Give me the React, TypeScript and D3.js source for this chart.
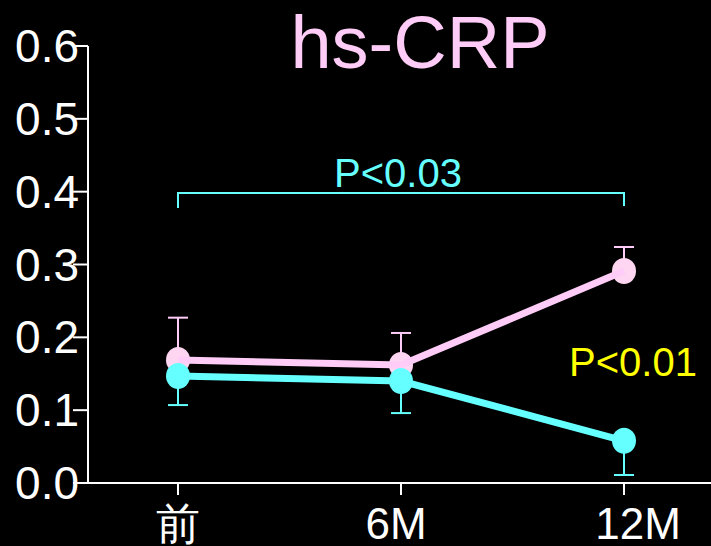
import React from "react";
import * as d3 from "d3";

const categories = ["前", "6M", "12M"];
const labelShift = [0, -5, 14];
const pinkMeans = [0.169, 0.162, 0.291];
const pinkUpper = [0.227, 0.206, 0.324];
const cyanMeans = [0.147, 0.14, 0.058];
const cyanLower = [0.107, 0.096, 0.011];
const yTicks = [0, 0.1, 0.2, 0.3, 0.4, 0.5, 0.6];
const yTickLabels = ["0.0", "0.1", "0.2", "0.3", "0.4", "0.5", "0.6"];
const title = "hs-CRP";
const pLabelTop = "P<0.03";
const pLabelRight = "P<0.01";

const W = 711;
const H = 546;
const PINK = "#FFCCF8";
const PINK_PT = "#FFD6F2";
const CYAN = "#66FFFF";
const YELLOW = "#FFFF00";
const FONT = "'Liberation Sans', Arial, sans-serif";

export default function App() {
  const x = d3.scalePoint<string>().domain(categories).range([178, 624]);
  const y = d3.scaleLinear().domain([0, 0.6]).range([483, 46]);
  const axisX = 88;
  const line = d3
    .line<number>()
    .x((_, i) => x(categories[i]) as number)
    .y((d) => y(d));
  const cap = 10;

  return (
    <div style={{ position: "fixed", left: 0, top: 0, width: W, height: H, background: "#000" }}>
      <svg width={W} height={H} style={{ display: "block", background: "#000" }}>
        <rect x={0} y={0} width={W} height={H} fill="#000" />
        <text x={420} y={68} fill={PINK} fontFamily={FONT} fontSize={74} textAnchor="middle">
          {title}
        </text>
        <line x1={axisX} x2={axisX} y1={y(0.6)} y2={y(0)} stroke="#fff" strokeWidth={2} />
        {yTicks.map((t, i) => (
          <g key={"yt" + i}>
            <line x1={axisX - 15} x2={axisX} y1={y(t)} y2={y(t)} stroke="#fff" strokeWidth={2} />
            <text x={79} y={y(t) + 16} fill="#fff" fontFamily={FONT} fontSize={46} textAnchor="end">
              {yTickLabels[i]}
            </text>
          </g>
        ))}
        <line x1={axisX} x2={W} y1={y(0)} y2={y(0)} stroke="#fff" strokeWidth={2} />
        {categories.map((c, i) => (
          <g key={"xt" + c}>
            <line x1={x(c)} x2={x(c)} y1={y(0)} y2={y(0) + 12} stroke="#fff" strokeWidth={2} />
            <text
              x={(x(c) as number) + labelShift[i]}
              y={539}
              fill="#fff"
              fontFamily={FONT}
              fontSize={44}
              textAnchor="middle"
            >
              {c}
            </text>
          </g>
        ))}
        <path
          d={`M${x(categories[0])},${208}V${193}H${x(categories[2])}V${206}`}
          fill="none"
          stroke={CYAN}
          strokeWidth={2}
        />
        <text x={398} y={187} fill={CYAN} fontFamily={FONT} fontSize={40} textAnchor="middle">
          {pLabelTop}
        </text>
        {pinkMeans.map((m, i) => {
          const cx = x(categories[i]) as number;
          return (
            <g key={"pe" + i}>
              <line x1={cx} x2={cx} y1={y(m)} y2={y(pinkUpper[i])} stroke={PINK} strokeWidth={2} />
              <line x1={cx - cap} x2={cx + cap} y1={y(pinkUpper[i])} y2={y(pinkUpper[i])} stroke={PINK} strokeWidth={2} />
            </g>
          );
        })}
        {cyanMeans.map((m, i) => {
          const cx = x(categories[i]) as number;
          return (
            <g key={"ce" + i}>
              <line x1={cx} x2={cx} y1={y(m)} y2={y(cyanLower[i])} stroke={CYAN} strokeWidth={2} />
              <line x1={cx - cap} x2={cx + cap} y1={y(cyanLower[i])} y2={y(cyanLower[i])} stroke={CYAN} strokeWidth={2} />
            </g>
          );
        })}
        {pinkMeans.map((m, i) => (
          <ellipse key={"pp" + i} cx={x(categories[i])} cy={y(m)} rx={12} ry={13} fill={PINK_PT} />
        ))}
        <path d={line(pinkMeans) || ""} fill="none" stroke={PINK} strokeWidth={7} />
        <path d={line(cyanMeans) || ""} fill="none" stroke={CYAN} strokeWidth={7} />
        {cyanMeans.map((m, i) => (
          <ellipse key={"cp" + i} cx={x(categories[i])} cy={y(m)} rx={12} ry={13} fill={CYAN} />
        ))}
        <text x={633} y={376} fill={YELLOW} fontFamily={FONT} fontSize={40} textAnchor="middle">
          {pLabelRight}
        </text>
      </svg>
    </div>
  );
}
